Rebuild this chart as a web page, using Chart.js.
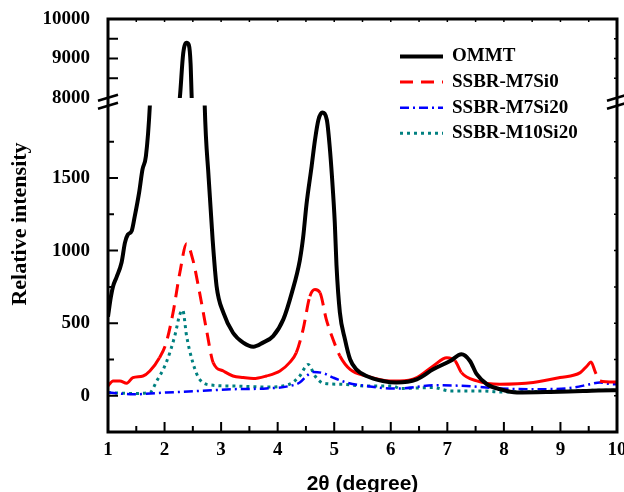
<!DOCTYPE html>
<html>
<head>
<meta charset="utf-8">
<script src="https://cdn.jsdelivr.net/npm/chart.js@4.4.0/dist/chart.umd.min.js"></script>
<style>
  html, body { margin: 0; padding: 0; background: #fff; overflow: hidden; }
  #wrap { width: 640px; height: 492px; }
</style>
</head>
<body>
<div id="wrap"><canvas id="xrd" width="640" height="492"></canvas></div>
<script>
// XRD scans, 2θ (degree) vs relative intensity
const ommtX = [1.00, 1.05, 1.09, 1.15, 1.24, 1.30, 1.35, 1.42, 1.47, 1.55, 1.61, 1.67, 1.74, 1.90, 2.10, 2.27, 2.33, 2.39, 2.43, 2.46, 2.48, 2.58, 2.71, 2.78, 2.85, 2.92, 3.04, 3.21, 3.39, 3.57, 3.74, 3.92, 4.10, 4.25, 4.39, 4.45, 4.51, 4.60, 4.66, 4.72, 4.79, 4.87, 4.92, 4.96, 5.01, 5.04, 5.10, 5.19, 5.28, 5.39, 5.57, 5.86, 6.10, 6.46, 6.75, 7.05, 7.25, 7.40, 7.52, 7.70, 7.93, 8.23, 8.82, 9.40, 9.93, 10.00];
const ommtY = [545, 680, 755, 816, 918, 1055, 1110, 1137, 1230, 1400, 1560, 1650, 2000, 3600, 6000, 8000, 9130, 9400, 9340, 8880, 8000, 4500, 2000, 1500, 1076, 755, 572, 434, 366, 338, 366, 411, 526, 709, 930, 1090, 1320, 1580, 1763, 1900, 1951, 1900, 1717, 1511, 1192, 900, 574, 388, 251, 182, 136, 102, 91, 113, 182, 239, 285, 239, 148, 79, 45, 22, 26, 33, 38, 38];

const m7si0X = [1.00, 1.09, 1.21, 1.33, 1.44, 1.62, 1.74, 1.91, 2.03, 2.15, 2.27, 2.39, 2.50, 2.62, 2.74, 2.86, 3.04, 3.21, 3.39, 3.57, 3.80, 4.04, 4.21, 4.33, 4.45, 4.57, 4.66, 4.75, 4.86, 4.98, 5.10, 5.28, 5.57, 5.99, 6.16, 6.46, 6.75, 6.99, 7.14, 7.25, 7.52, 7.93, 8.52, 8.99, 9.35, 9.47, 9.54, 9.62, 9.70, 9.94, 10.00];
const m7si0Y = [67, 102, 102, 86, 125, 136, 170, 262, 366, 572, 847, 1048, 938, 709, 457, 228, 170, 136, 125, 118, 136, 170, 228, 297, 457, 686, 732, 709, 526, 388, 274, 182, 136, 102, 102, 125, 205, 262, 239, 159, 102, 79, 91, 125, 159, 205, 232, 159, 102, 95, 95];

const m7si20X = [1.00, 1.44, 2.03, 2.62, 3.21, 3.80, 4.21, 4.39, 4.51, 4.63, 4.81, 4.98, 5.22, 5.57, 6.04, 6.16, 6.75, 7.34, 7.93, 8.64, 9.23, 9.52, 9.70, 9.94, 10.00];
const m7si20Y = [22, 10, 22, 33, 45, 50, 67, 91, 136, 164, 155, 125, 91, 67, 50, 50, 72, 67, 50, 45, 56, 79, 91, 79, 79];

const m10si20X = [1.00, 1.44, 1.74, 1.86, 2.03, 2.18, 2.27, 2.32, 2.39, 2.50, 2.62, 2.86, 3.21, 3.80, 4.21, 4.39, 4.54, 4.66, 4.81, 5.10, 5.57, 6.04, 6.16, 6.75, 7.05, 7.64, 7.93, 9.94, 10.00];
const m10si20Y = [22, 15, 22, 100, 228, 411, 560, 590, 411, 228, 113, 72, 67, 60, 79, 136, 216, 136, 86, 79, 67, 67, 50, 56, 33, 33, 26, 38, 38];

const seriesNames = ['OMMT', 'SSBR-M7Si0', 'SSBR-M7Si20', 'SSBR-M10Si20'];
const xTicks = [1, 2, 3, 4, 5, 6, 7, 8, 9, 10];
const lowerTicks = [0, 500, 1000, 1500];
const upperTicks = [8000, 9000, 10000];

const serif = "'Liberation Serif', 'Times New Roman', serif";
const tickFont = { family: serif, size: 19, weight: 'bold' };

function toPoints(xs, ys) {
  return xs.map((x, i) => ({ x: x, y: ys[i] }));
}

// red trace: dashes only show up on the steep flanks
function steepDash(ctx) {
  const dx = Math.abs(ctx.p1.x - ctx.p0.x);
  const dy = Math.abs(ctx.p1.y - ctx.p0.y);
  return dy > 1.5 * dx ? [13, 8] : [];
}

// no extra room for half-labels sticking out past the plot edges
function noOverhang(s) {
  s.paddingTop = 0;
  s.paddingBottom = 0;
  s.paddingLeft = 0;
  s.paddingRight = 0;
}

// box frame, inward ticks, axis break marks, titles and legend
const framePlugin = {
  id: 'frame',
  afterDatasetsDraw(chart) {
    const ctx = chart.ctx;
    const a = chart.chartArea;
    const sx = chart.scales.x;
    const yLow = chart.scales.y;
    const yUp = chart.scales.yTop;
    ctx.save();
    ctx.strokeStyle = '#000';
    ctx.fillStyle = '#000';

    // bottom and top ticks
    ctx.lineWidth = 2;
    ctx.beginPath();
    for (let v = 1.5; v < 10; v += 0.5) {
      const px = sx.getPixelForValue(v);
      const len = Number.isInteger(v) ? 10 : 6;
      ctx.moveTo(px, a.bottom);
      ctx.lineTo(px, a.bottom - len);
    }
    ctx.stroke();
    ctx.lineWidth = 1.5;
    ctx.beginPath();
    for (let v = 1.5; v < 10; v += 0.5) {
      const px = sx.getPixelForValue(v);
      ctx.moveTo(px, a.top);
      ctx.lineTo(px, a.top + 3);
    }
    ctx.stroke();

    // left ticks (long) and right ticks (short)
    const yMarks = [];
    for (let v = 0; v < 2000; v += 250) yMarks.push([yLow, v]);
    for (let v = 8500; v < 10000; v += 500) yMarks.push([yUp, v]);
    ctx.lineWidth = 2;
    ctx.beginPath();
    yMarks.forEach(([s, v]) => {
      const py = s.getPixelForValue(v);
      const len = v % 500 === 0 ? 10 : 6;
      ctx.moveTo(a.left, py);
      ctx.lineTo(a.left + len, py);
    });
    ctx.stroke();
    ctx.lineWidth = 1.5;
    ctx.beginPath();
    yMarks.forEach(([s, v]) => {
      const py = s.getPixelForValue(v);
      ctx.moveTo(a.right, py);
      ctx.lineTo(a.right - 3, py);
    });
    ctx.stroke();

    // frame
    ctx.lineWidth = 3;
    ctx.strokeRect(a.left, a.top, a.right - a.left, a.bottom - a.top);

    // break marks
    const by = (yUp.bottom + yLow.top) / 2;
    ctx.lineWidth = 2.5;
    ctx.beginPath();
    [a.left, a.right].forEach(cx => {
      [-4, 4].forEach(d => {
        ctx.moveTo(cx - 10, by + d + 3);
        ctx.lineTo(cx + 10, by + d - 3);
      });
    });
    ctx.stroke();

    // axis titles
    ctx.textAlign = 'center';
    ctx.textBaseline = 'middle';
    ctx.font = "bold 21px 'Liberation Sans', Arial, sans-serif";
    ctx.fillText('2\u03B8 (degree)', (a.left + a.right) / 2, 484);
    ctx.save();
    ctx.translate(20, 224);
    ctx.rotate(-Math.PI / 2);
    ctx.font = 'bold 22px ' + serif;
    ctx.fillText('Relative intensity', 0, 0);
    ctx.restore();

    // legend
    ctx.textAlign = 'left';
    ctx.font = 'bold 19px ' + serif;
    let row = 0;
    chart.data.datasets.forEach(ds => {
      if (ds.skipLegend) return;
      const ly = 56.5 + row * 25.6;
      ctx.save();
      ctx.strokeStyle = ds.borderColor;
      ctx.lineWidth = ds.borderWidth;
      ctx.setLineDash(ds.borderDash || []);
      ctx.beginPath();
      ctx.moveTo(400, ly);
      ctx.lineTo(443, ly);
      ctx.stroke();
      ctx.restore();
      ctx.fillText(ds.label, 452, ly);
      row++;
    });
    ctx.restore();
  }
};

function yAxis(weight, min, max, ticks) {
  return {
    type: 'linear',
    position: 'left',
    stack: 'v',
    stackWeight: weight,
    min: min,
    max: max,
    afterBuildTicks: s => { s.ticks = ticks.map(v => ({ value: v })); },
    afterFit: s => { s.width = 108; noOverhang(s); },
    grid: { display: false, drawTicks: false },
    border: { display: false },
    ticks: {
      display: ticks.length > 0,
      autoSkip: false,
      padding: 18,
      color: '#000',
      font: tickFont,
      callback: v => String(v)
    }
  };
}

const lineBase = { pointRadius: 0, fill: false, clip: 0, cubicInterpolationMode: 'monotone' };

new Chart(document.getElementById('xrd'), {
  type: 'line',
  data: {
    datasets: [
      Object.assign({}, lineBase, {
        label: seriesNames[0], data: toPoints(ommtX, ommtY), yAxisID: 'y',
        borderColor: '#000000', borderWidth: 4
      }),
      Object.assign({}, lineBase, {
        label: seriesNames[0], data: toPoints(ommtX, ommtY), yAxisID: 'yTop',
        borderColor: '#000000', borderWidth: 4, skipLegend: true
      }),
      Object.assign({}, lineBase, {
        label: seriesNames[1], data: toPoints(m7si0X, m7si0Y), yAxisID: 'y',
        borderColor: '#ff0000', borderWidth: 3, borderDash: [13, 8],
        segment: { borderDash: steepDash }
      }),
      Object.assign({}, lineBase, {
        label: seriesNames[2], data: toPoints(m7si20X, m7si20Y), yAxisID: 'y',
        borderColor: '#0000ff', borderWidth: 2.5, borderDash: [9, 4, 2, 4]
      }),
      Object.assign({}, lineBase, {
        label: seriesNames[3], data: toPoints(m10si20X, m10si20Y), yAxisID: 'y',
        borderColor: '#008080', borderWidth: 3, borderDash: [3, 4]
      })
    ]
  },
  options: {
    responsive: false,
    animation: false,
    devicePixelRatio: 1,
    layout: { padding: { top: 19, right: 23, bottom: 0, left: 0 } },
    plugins: { legend: { display: false }, tooltip: { enabled: false } },
    scales: {
      x: {
        type: 'linear',
        position: 'bottom',
        min: 1,
        max: 10,
        afterBuildTicks: s => { s.ticks = xTicks.map(v => ({ value: v })); },
        afterFit: s => { s.height = 60; noOverhang(s); },
        grid: { display: false, drawTicks: false },
        border: { display: false },
        ticks: { autoSkip: false, padding: 7, color: '#000', font: tickFont, maxRotation: 0, callback: v => String(v) }
      },
      y: yAxis(326.5, -250, 2000, lowerTicks),
      yGap: yAxis(7.5, 0, 1, []),
      yTop: yAxis(79, 8000, 10000, upperTicks)
    }
  },
  plugins: [framePlugin]
});
</script>
</body>
</html>
